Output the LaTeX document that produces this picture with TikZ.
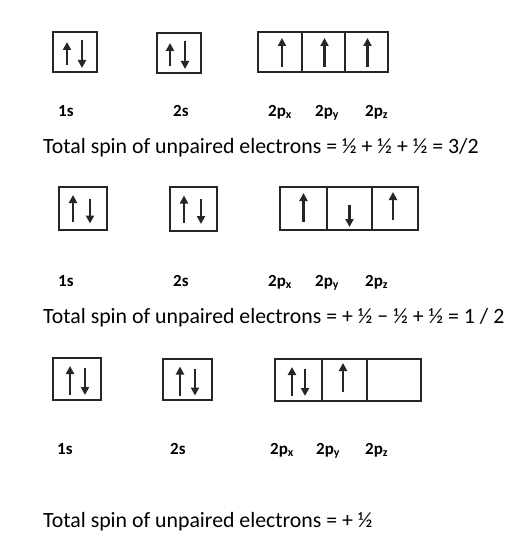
\documentclass[tikz,border=0pt]{standalone}
\usepackage{fontspec}
\setmainfont{Carlito}
\usetikzlibrary{arrows.meta}
\newcommand\spinarrow[4]{\draw[spin] ([shift={(#2,#3)}]#1.center) -- ([shift={(#2,#4)}]#1.center);}
\begin{document}
\begin{tikzpicture}[x=1pt,y=-1pt,
  orb/.style={draw=black!85, line width=2pt, inner sep=0pt, minimum width=#1},
  orb/.default=44pt,
  spin/.style={line width=2.6pt, draw=black!85, -{Triangle[length=8pt,width=8pt]}},
  lbl/.style={anchor=base west, inner sep=0pt, font=\fontsize{17}{19}\selectfont\bfseries},
  txt/.style={anchor=base west, inner sep=0pt, font=\fontsize{21.8}{25}\selectfont}]
\fill[white] (0,0) rectangle (526,543);
\useasboundingbox (0,0) rectangle (526,543);

% ---------- Row 1 ----------
\node[orb=44pt, minimum height=40pt] (a1) at (75,52) {};
\node[orb=44pt, minimum height=40pt] (a2) at (179,53) {};
\node[orb=44pt, minimum height=40pt] (a3x) at (280,52) {};
\node[orb=43pt, minimum height=40pt] (a3y) at (323.5,52) {};
\node[orb=43pt, minimum height=40pt] (a3z) at (366.5,52) {};
\spinarrow{a1}{-8}{13}{-10}
\spinarrow{a1}{7}{-12}{16}
\spinarrow{a2}{-9}{13}{-10}
\spinarrow{a2}{6}{-12}{16}
\spinarrow{a3x}{2}{15}{-14}
\spinarrow{a3y}{1}{15}{-14}
\spinarrow{a3z}{1}{15}{-14}
\node[lbl] (l1a) at (58,116) {1s};
\node[lbl] (l1b) at (173,116) {2s};
\node[lbl] (l1c) at (268,116) {2p\textsubscript{x}};
\node[lbl] (l1d) at (315,116) {2p\textsubscript{y}};
\node[lbl] (l1e) at (365,116) {2p\textsubscript{z}};
\node[txt] (t1) at (43,153) {Total spin of unpaired electrons = ½ + ½ + ½ = 3/2};

% ---------- Row 2 ----------
\node[orb=48pt, minimum height=43pt] (b1) at (83,208.5) {};
\node[orb=47pt, minimum height=44pt] (b2) at (193.5,209) {};
\node[orb=47pt, minimum height=43pt] (b3x) at (303.5,208.5) {};
\node[orb=45pt, minimum height=43pt] (b3y) at (349.5,208.5) {};
\node[orb=46pt, minimum height=43pt] (b3z) at (395,208.5) {};
\spinarrow{b1}{-10}{13.5}{-13.5}
\spinarrow{b1}{7}{-10}{15}
\spinarrow{b2}{-9.5}{13.5}{-13.5}
\spinarrow{b2}{7.5}{-10}{15}
\spinarrow{b3x}{0}{13.5}{-15.5}
\spinarrow{b3y}{0}{-4}{18.5}
\spinarrow{b3z}{-2}{11.5}{-16.5}
\node[lbl] (l2a) at (58,286) {1s};
\node[lbl] (l2b) at (173,286) {2s};
\node[lbl] (l2c) at (268,286) {2p\textsubscript{x}};
\node[lbl] (l2d) at (315,286) {2p\textsubscript{y}};
\node[lbl] (l2e) at (365,286) {2p\textsubscript{z}};
\node[txt] (t2) at (43,323) {Total spin of unpaired electrons = + ½ − ½ + ½ = 1 / 2};

% ---------- Row 3 ----------
\node[orb=48pt, minimum height=42pt] (c1) at (77,379) {};
\node[orb=49pt, minimum height=41pt] (c2) at (187.5,379.5) {};
\node[orb=47pt, minimum height=42pt] (c3x) at (298.5,380) {};
\node[orb=45pt, minimum height=42pt] (c3y) at (344.5,380) {};
\node[orb=54pt, minimum height=42pt] (c3z) at (394,380) {};
\spinarrow{c1}{-7}{16}{-13}
\spinarrow{c1}{8}{-11}{16}
\spinarrow{c2}{-7.5}{16}{-13}
\spinarrow{c2}{7.5}{-11}{16}
\spinarrow{c3x}{-6.5}{16}{-13}
\spinarrow{c3x}{6.5}{-11}{16}
\spinarrow{c3y}{-1.5}{12}{-17}
\node[lbl] (l3a) at (57,454) {1s};
\node[lbl] (l3b) at (170,454) {2s};
\node[lbl] (l3c) at (270,454) {2p\textsubscript{x}};
\node[lbl] (l3d) at (316,454) {2p\textsubscript{y}};
\node[lbl] (l3e) at (365,454) {2p\textsubscript{z}};
\node[txt] (t3) at (43,527) {Total spin of unpaired electrons = + ½};
\end{tikzpicture}
\end{document}
